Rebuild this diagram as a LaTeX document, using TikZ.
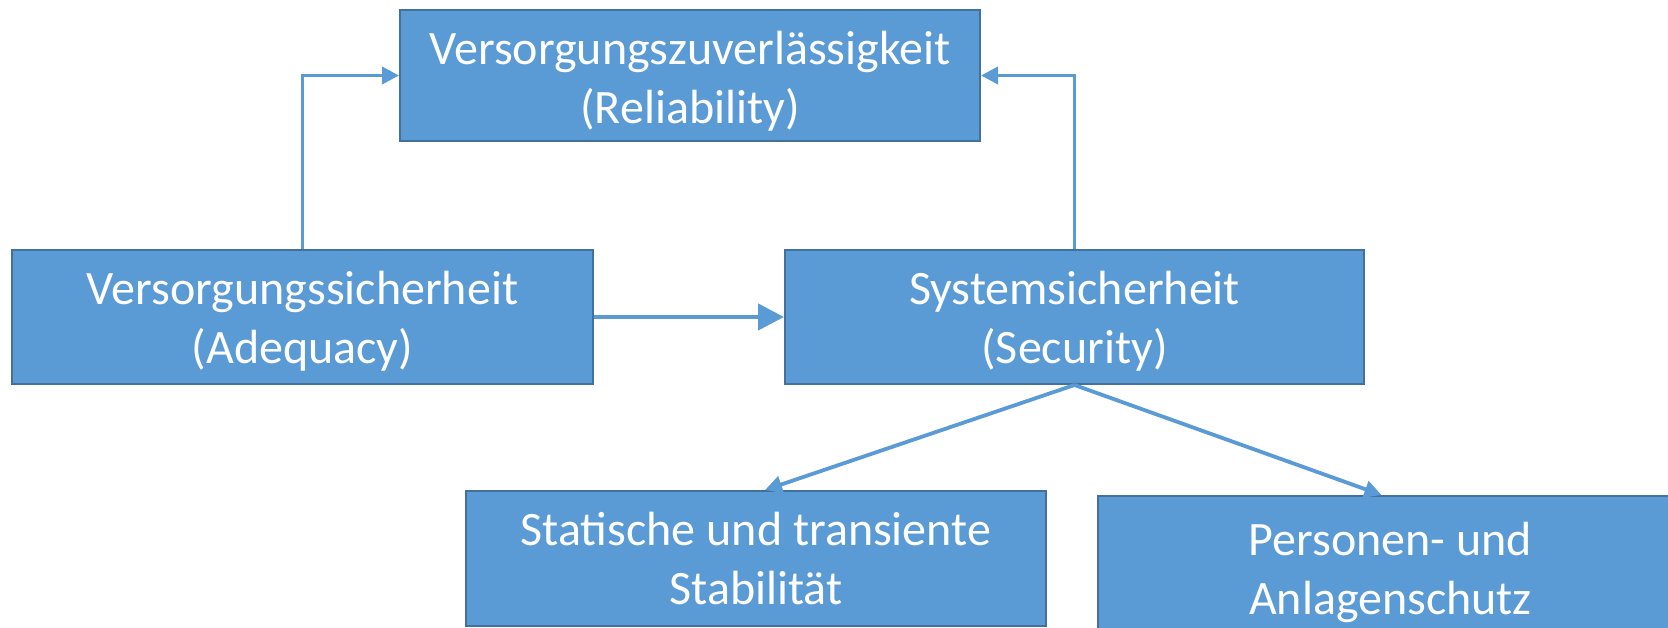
\documentclass[tikz,border=0pt]{standalone}
\usepackage{fontspec}
\setmainfont{Carlito}
\usetikzlibrary{arrows.meta}
\definecolor{boxfill}{HTML}{5B9BD5}
\definecolor{boxline}{HTML}{41719C}
\begin{document}
\begin{tikzpicture}[x=1pt,y=-1pt,
  box/.style={draw=boxline,line width=2pt,fill=boxfill,inner sep=0pt,anchor=north west},
  lbl/.style={text=white,inner sep=0pt,font=\fontsize{48}{59}\selectfont,align=center},
  arr/.style={draw=boxfill,line width=3.8pt,-{Triangle[length=17pt,width=17pt]}},
  bigarr/.style={draw=boxfill,line width=4.6pt,-{Triangle[length=26pt,width=26pt]}}]
\useasboundingbox (0,0) rectangle (1668,628);
\node[box,minimum width=580pt,minimum height=131pt,
  label={[lbl,yshift=-5.5pt]center:Versorgungszuverlässigkeit\\(Reliability)}] (rel) at (399,9) {};
\node[box,minimum width=581pt,minimum height=134pt,
  label={[lbl,yshift=-4pt]center:Versorgungssicherheit\\(Adequacy)}] (adq) at (11,249) {};
\node[box,minimum width=579pt,minimum height=134pt,
  label={[lbl,yshift=-4pt]center:Systemsicherheit\\(Security)}] (sec) at (784,249) {};
\node[box,minimum width=580pt,minimum height=135pt,
  label={[lbl,yshift=0pt]center:Statische und transiente\\Stabilität}] (stab) at (465,490) {};
\node[box,minimum width=585pt,minimum height=145pt,
  label={[lbl,yshift=-4pt]center:Personen- und\\Anlagenschutz}] (pers) at (1097,495) {};
\draw[arr] (adq.north) |- (rel.west);
\draw[arr] (sec.north) |- (rel.east);
\draw[bigarr] (adq.east) -- (sec.west);
\draw[arr] (sec.south) -- ([xshift=9pt]stab.north);
\draw[arr] (sec.south) -- ([xshift=-9pt]pers.north);
\end{tikzpicture}
\end{document}
